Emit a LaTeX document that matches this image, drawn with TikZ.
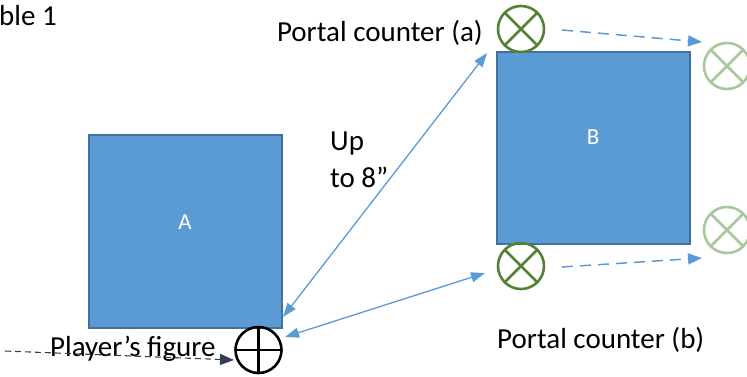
\documentclass[tikz,border=0pt]{standalone}
\usepackage{fontspec}
\setmainfont{Carlito}
\usetikzlibrary{arrows.meta}
\definecolor{boxfill}{HTML}{5B9BD5}
\definecolor{boxline}{HTML}{41719C}
\definecolor{portgreen}{HTML}{548235}
\definecolor{fadegreen}{HTML}{A9C79C}
\definecolor{darkarrow}{HTML}{333F50}
\begin{document}
\begin{tikzpicture}[x=1pt,y=-1pt,
  txt/.style={inner sep=0pt,font=\fontsize{29}{35}\selectfont},
  lbl/.style={inner sep=0pt,text=white,font=\fontsize{23}{28}\selectfont},
  board/.style={draw=boxline,line width=2pt,fill=boxfill,inner sep=0pt},
  xcirc/.style={circle,draw=#1,line width=2.6pt,inner sep=0pt,minimum size=46pt,
    path picture={\draw[#1,line width=2.6pt]
      (path picture bounding box.north west)--(path picture bounding box.south east)
      (path picture bounding box.north east)--(path picture bounding box.south west);}},
  pcirc/.style={circle,draw=black,line width=2.6pt,inner sep=0pt,minimum size=46pt,
    path picture={\draw[black,line width=2.6pt]
      (path picture bounding box.north)--(path picture bounding box.south)
      (path picture bounding box.east)--(path picture bounding box.west);}},
  measure/.style={draw=boxfill,line width=1.3pt,{Triangle[length=14pt,width=10pt]}-{Triangle[length=14pt,width=10pt]}},
  moveblue/.style={draw=boxfill,line width=1.5pt,dash pattern=on 11pt off 7pt,-{Triangle[length=14pt,width=11pt]}},
  movedark/.style={draw=darkarrow,line width=1.1pt,dash pattern=on 6pt off 4pt,-{Triangle[length=14pt,width=11pt]}}
]
\useasboundingbox (0,0) rectangle (747,376);

\node[txt,anchor=base east] (title) at (57,25) {Table 1};

\node[board,minimum width=193pt,minimum height=193pt] (boxA) at (185,231.5) {};
\node[lbl,anchor=base] (labA) at (185,229) {A};
\node[board,minimum width=193pt,minimum height=192pt] (boxB) at (593.5,147.5) {};
\node[lbl,anchor=base] (labB) at (593,144) {B};

\node[xcirc=portgreen] (pa) at (521,29) {};
\node[xcirc=portgreen] (pb) at (521,266) {};
\node[xcirc=fadegreen] (fa) at (727,66) {};
\node[xcirc=fadegreen] (fb) at (727,230) {};
\node[pcirc] (pl) at (258.5,350) {};

\node[txt,anchor=base east] (labPa) at (483,41) {Portal counter (a)};
\node[txt,anchor=base west] (labPb) at (497,348) {Portal counter (b)};
\node[txt,anchor=base west] (labPl) at (50,356) {Player’s figure};
\node[txt,anchor=base west] (up1) at (330,150) {Up};
\node[txt,anchor=base west] (up2) at (330,187) {to 8”};

\coordinate (m1s) at (283,317);
\coordinate (m1e) at (487,53);
\coordinate (m2s) at (285,337);
\coordinate (m2e) at (485,273);
\draw[measure] (m1s) -- (m1e);
\draw[measure] (m2s) -- (m2e);

\coordinate (d1s) at (562,30);
\coordinate (d1e) at (702,42);
\coordinate (d2s) at (562,267);
\coordinate (d2e) at (702,258);
\draw[moveblue] (d1s) -- (d1e);
\draw[moveblue] (d2s) -- (d2e);

\coordinate (d3s) at (5,351);
\coordinate (d3e) at (234,360);
\draw[movedark] (d3s) -- (d3e);
\end{tikzpicture}
\end{document}
